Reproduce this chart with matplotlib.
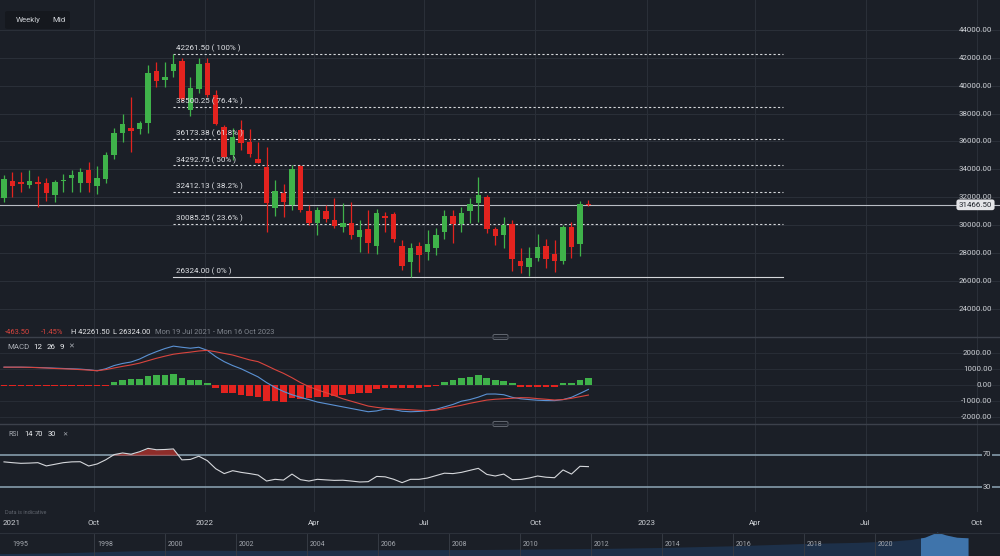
import datetime as dt
import matplotlib
matplotlib.use("Agg")
import matplotlib.pyplot as plt
import matplotlib.dates as mdates
from matplotlib.patches import Rectangle, FancyBboxPatch
from matplotlib.transforms import blended_transform_factory

plt.rcParams['font.family'] = ['Roboto', 'DejaVu Sans']

# ---- data ----
first_week = dt.date(2021, 7, 19)
opens = [31930, 33170, 33080, 32885, 33080, 33050, 32170, 33170, 33360, 33050,
         33960, 32835, 33310, 35030, 36630, 36940, 36890, 37300, 41067, 40400,
         41067, 41780, 38250, 39730, 41640, 39325, 37015, 35030, 36820, 35985,
         34725, 34195, 31215, 32290, 31450, 34250, 31045, 30185, 31045, 30380,
         29900, 30140, 29185, 29710, 28520, 30665, 30810, 28520, 27395, 28520,
         28110, 28350, 29540, 30665, 30090, 31045, 31570, 32050, 29710, 29305,
         30090, 27420, 26990, 27635, 28520, 27925, 27470, 29855, 28660, 31520]
highs = [33600, 33840, 33840, 33960, 33550, 33410, 33240, 33650, 33960, 34080,
         34550, 34270, 35270, 36990, 37945, 39205, 37465, 41470, 41710, 41710,
         42261.5, 41950, 40640, 41950, 41950, 39685, 37180, 36940, 37540, 36870,
         35985, 35625, 33240, 32955, 34320, 34320, 31450, 31330, 31450, 31930,
         31570, 31690, 30380, 31095, 31140, 30970, 30970, 28950, 28710, 28830,
         29665, 29780, 31095, 31095, 31330, 31930, 33480, 32170, 29900, 30570,
         30380, 28350, 28425, 29380, 28990, 28950, 30020, 30260, 31760, 31810]
lows = [31690, 32050, 32400, 32650, 31330, 31740, 31650, 32360, 32400, 32400,
        32360, 32220, 33010, 34745, 35940, 35270, 36515, 36585, 39920, 39920,
        40640, 38900, 37825, 39450, 39205, 37180, 34790, 34670, 35390, 34910,
        34440, 29540, 30665, 30615, 31095, 30920, 30020, 29305, 30260, 29780,
        29540, 29000, 28110, 27990, 27940, 29540, 28830, 26800, 26324, 26680,
        27510, 27870, 29000, 28710, 29540, 30185, 30260, 29470, 28590, 28400,
        26750, 26560, 26370, 27470, 26920, 26680, 27230, 27635, 27800, 31380]
closes = [33310, 32840, 32980, 33170, 32940, 32330, 33080, 33240, 33600, 33790,
          33010, 33410, 35030, 36585, 37250, 36770, 37345, 40880, 40330, 40640,
          41545, 39050, 39805, 41545, 39325, 37250, 34910, 36340, 35910, 35105,
          34480, 31620, 32475, 31690, 34010, 31100, 30185, 31095, 30430, 29950,
          30140, 29305, 29665, 28755, 30900, 30500, 29000, 27090, 28350, 27870,
          28660, 29305, 30665, 30090, 30900, 31525, 32170, 29735, 29230, 29995,
          27610, 27090, 27635, 28425, 27560, 27470, 29900, 28425, 31525, 31466.5]

macd_line = [1100, 1100, 1100, 1090, 1080, 1060, 1040, 1020, 1000, 980,
             940, 880, 1000, 1200, 1330, 1420, 1600, 1850, 2060, 2250,
             2400, 2330, 2270, 2330, 2140, 1750, 1440, 1200, 1000, 750,
             500, 150, -150, -400, -600, -760, -900, -1050, -1150, -1250,
             -1350, -1450, -1550, -1650, -1600, -1480, -1520, -1620, -1650, -1630,
             -1580, -1500, -1350, -1200, -1000, -900, -750, -560, -555, -600,
             -760, -850, -900, -940, -960, -965, -900, -760, -520, -270]
signal_line = [1100, 1100, 1100, 1090, 1070, 1050, 1020, 1000, 980, 950,
               920, 880, 950, 1050, 1150, 1240, 1350, 1500, 1650, 1780,
               1900, 1970, 2030, 2100, 2140, 2050, 1950, 1850, 1700, 1550,
               1440, 1200, 950, 720, 450, 150, -100, -300, -470, -650,
               -850, -1000, -1150, -1300, -1380, -1440, -1480, -1500, -1530, -1560,
               -1580, -1550, -1450, -1350, -1250, -1130, -1030, -930, -880, -850,
               -820, -780, -790, -840, -880, -925, -900, -820, -720, -620]
macd_hist = [-40, -40, -40, -40, -80, -80, -80, -80, -80, -80,
             -80, -80, 0, 170, 310, 370, 370, 560, 620, 620,
             680, 430, 310, 310, 120, -160, -470, -510, -620, -680,
             -720, -965, -965, -1030, -820, -885, -820, -760, -760, -680,
             -620, -555, -510, -470, -250, -160, -160, -200, -200, -160,
             -100, 0, 170, 310, 410, 520, 600, 430, 310, 250,
             100, -100, -100, -100, -100, -100, 100, 100, 310, 430]

rsi = [61.5, 60.5, 59.7, 60, 60.5, 56.5, 58.5, 60.5, 61.5, 61.7,
       56.4, 58.9, 64, 70.5, 72.5, 71, 74, 78.2, 76.5, 76.8,
       77.5, 64, 64.5, 68.5, 63, 53, 47, 50.6, 48.5, 47,
       45.2, 37.8, 39.9, 39, 46.4, 39.5, 37.8, 39.9, 39.2, 38.6,
       38.8, 37.8, 36.6, 37, 43.5, 43, 40, 35.8, 39.9, 39.9,
       41.5, 44.5, 47.5, 47, 48.5, 51, 53.5, 46, 44, 46.4,
       39.5, 39.8, 41.5, 44, 42.5, 41.9, 51.5, 46.4, 56, 55.6]

fib_levels = [42261.5, 38500.25, 36173.38, 34292.75, 32412.13, 30085.25, 26324.0]
fib_pcts = ["100%", "76.4%", "61.8%", "50%", "38.2%", "23.6%", "0%"]
fib_end = dt.date(2023, 4, 24)

price_ticks = [24000, 26000, 28000, 30000, 32000, 34000, 36000, 38000, 40000, 42000, 44000]
macd_ticks = [2000, 1000, 0, -1000, -2000]
quarter_dates = [dt.date(2021, 10, 1), dt.date(2022, 1, 1), dt.date(2022, 4, 1),
                 dt.date(2022, 7, 1), dt.date(2022, 10, 1), dt.date(2023, 1, 1),
                 dt.date(2023, 4, 1), dt.date(2023, 7, 1), dt.date(2023, 10, 1)]
quarter_labels = ["Oct", "2022", "Apr", "Jul", "Oct", "2023", "Apr", "Jul", "Oct"]

nav_years = [1995.0, 1997.0, 1999.0, 2000.5, 2003.0, 2006.0, 2009.0, 2012.0, 2014.0,
             2016.0, 2018.0, 2019.5, 2020.5, 2021.0, 2021.4, 2021.75, 2022.0, 2022.3, 2022.62]
nav_values = [4000, 5500, 9000, 10500, 9500, 11000, 11500, 13000, 15000,
              18000, 22000, 24000, 26500, 29000, 33000, 42000, 37000, 33000, 32000]
nav_ticks = [1998, 2000, 2002, 2004, 2006, 2008, 2010, 2012, 2014, 2016, 2018, 2020]

# ---- styling ----
BG = "#1b1f27"
GRID = "#2a2f38"
SEP = "#3c414b"
TXT = "#cdd0d5"
GREEN = "#3fb24a"
RED = "#e3231f"
W, H = 1000, 556
PX_PER_DAY = 8.47 / 7


def px_box(x0, y0, x1, y1):
    return [x0 / W, 1 - y1 / H, (x1 - x0) / W, (y1 - y0) / H]


def fy(y):
    return 1 - y / H


weeks = [first_week + dt.timedelta(weeks=i) for i in range(len(closes))]
xs = mdates.date2num(weeks)
x0 = xs[0]
xlim = (x0 - 4 / PX_PER_DAY, x0 + 996 / PX_PER_DAY)
qx = mdates.date2num(quarter_dates)

fig = plt.figure(figsize=(10, 5.56), dpi=100, facecolor=BG)


def clean(a):
    a.set_facecolor(BG)
    for s in a.spines.values():
        s.set_visible(False)
    a.set_xticks([])
    a.set_yticks([])


# ---- price panel ----
ax = fig.add_axes(px_box(0, 0, 1000, 337))
clean(ax)
ax.set_xlim(*xlim)
ax.set_ylim(22004, 46127)
for q in qx:
    ax.axvline(q, color=GRID, lw=0.8, zorder=0)
for t in price_ticks:
    ax.axhline(t, color=GRID, lw=0.8, zorder=0)
    ax.text(0.992, t, f"{t:.2f}", transform=ax.get_yaxis_transform(),
            ha="right", va="center", fontsize=5.7, color=TXT)

body_w = 4.5
for x, o, h, l, c in zip(xs, opens, highs, lows, closes):
    col = GREEN if c >= o else RED
    ax.vlines(x, l, h, color=col, lw=0.9, zorder=3)
    ax.bar(x, max(abs(c - o), 80), bottom=min(o, c), width=body_w, color=col, zorder=4)

fib_start = xs[highs.index(max(highs))]
fib_stop = mdates.date2num(fib_end)
for lvl, pct in zip(fib_levels, fib_pcts):
    ls = "-" if pct == "0%" else (0, (2, 2))
    ax.plot([fib_start, fib_stop], [lvl, lvl], color="#d5d7db", lw=0.8, ls=ls, zorder=2)
    ax.text(fib_start + 3 / PX_PER_DAY, lvl + 130, f"{lvl:.2f} ( {pct} )",
            fontsize=5.8, color="#e2e4e8", ha="left", va="bottom", zorder=5)

last = closes[-1]
ax.axhline(last, color="#b9bdc4", lw=0.8, zorder=2)
ax.text(0.9755, last, f"{last:.2f}", transform=ax.get_yaxis_transform(),
        ha="center", va="center", fontsize=5.7, color="#20242b", zorder=6,
        bbox=dict(boxstyle="round,pad=0.3", fc="#e4e5e8", ec="none"))

# top-left interval box
fig.patches.append(FancyBboxPatch((5 / W, fy(29)), 65 / W, 18 / H,
                                  boxstyle="round,pad=0,rounding_size=0.003",
                                  transform=fig.transFigure, fc="#15181e", ec="none"))
fig.text(16 / W, fy(20), "Weekly", fontsize=5.7, color=TXT, va="center")
fig.text(52 / W, fy(20), "Mid", fontsize=5.7, color=TXT, va="center")

# header row
hy = fy(332)
fig.text(5 / W, hy, "-463.50", fontsize=5.4, color="#d9453e", va="center")
fig.text(41 / W, hy, "-1.45%", fontsize=5.4, color="#d9453e", va="center")
fig.text(71 / W, hy, "H 42261.50", fontsize=5.4, color="#e6e7ea", va="center")
fig.text(113 / W, hy, "L 26324.00", fontsize=5.4, color="#e6e7ea", va="center")
fig.text(155 / W, hy, "Mon 19 Jul 2021 - Mon 16 Oct 2023", fontsize=5.4,
         color="#80858e", va="center")

# ---- MACD panel ----
axm = fig.add_axes(px_box(0, 337, 1000, 424))
clean(axm)
axm.set_xlim(*xlim)
axm.set_ylim(-2407, 2963)
for q in qx:
    axm.axvline(q, color=GRID, lw=0.8, zorder=0)
for t in macd_ticks:
    axm.axhline(t, color=GRID, lw=0.6, zorder=0)
    axm.text(0.992, t, f"{t:.2f}", transform=axm.get_yaxis_transform(),
             ha="right", va="center", fontsize=5.7, color=TXT)
hist_cols = [GREEN if v > 0 else RED for v in macd_hist]
hist_h = [v if abs(v) >= 60 else (60 if v > 0 else -60) for v in macd_hist]
axm.bar(xs, hist_h, width=5.5, color=hist_cols, zorder=2)
axm.plot(xs, macd_line, color="#5b92d4", lw=0.8, zorder=3)
axm.plot(xs, signal_line, color="#d9453e", lw=0.8, zorder=3)
my = fy(347)
fig.text(7 / W, my, "MACD", fontsize=5.7, color="#a9adb4", va="center")
fig.text(33 / W, my, "12", fontsize=5.7, color="#eceef1", va="center")
fig.text(47 / W, my, "26", fontsize=5.7, color="#eceef1", va="center")
fig.text(60 / W, my, "9", fontsize=5.7, color="#eceef1", va="center")
fig.text(68 / W, my, "\u2715", fontsize=5, color="#a9adb4", va="center")

# ---- RSI panel ----
axr = fig.add_axes(px_box(0, 424, 1000, 512))
clean(axr)
axr.set_xlim(*xlim)
axr.set_ylim(-0.52, 108.35)
for q in qx:
    axr.axvline(q, color=GRID, lw=0.8, zorder=0)
for lvl in (70, 30):
    axr.axhline(lvl, color="#8ea6b6", lw=1.1, zorder=1)
    axr.text(0.987, lvl, f"{lvl}", transform=axr.get_yaxis_transform(), ha="center",
             va="center", fontsize=5.4, color=TXT, zorder=3,
             bbox=dict(boxstyle="square,pad=0.15", fc=BG, ec="none"))
axr.fill_between(xs, rsi, 70, where=[r > 70 for r in rsi], interpolate=True,
                 color="#9c2f2b", alpha=0.9, lw=0, zorder=2)
axr.plot(xs, rsi, color="#d5d7db", lw=0.8, zorder=3)
ry = fy(435)
fig.text(8 / W, ry, "RSI", fontsize=5, color="#a9adb4", va="center")
fig.text(24 / W, ry, "14", fontsize=5.4, color="#eceef1", va="center")
fig.text(35 / W, ry, "70", fontsize=5.4, color="#eceef1", va="center")
fig.text(48 / W, ry, "30", fontsize=5.4, color="#eceef1", va="center")
fig.text(62 / W, ry, "\u2715", fontsize=4.5, color="#a9adb4", va="center")
fig.text(5 / W, fy(513), "Data is indicative", fontsize=4, color="#5f646d", va="center")

# date labels
dtr = blended_transform_factory(axr.transData, fig.transFigure)
fig.text(12 / W, fy(523), "2021", fontsize=5.7, color=TXT, ha="center", va="center")
for q, lab in zip(qx, quarter_labels):
    axr.text(q, fy(523), lab, transform=dtr, fontsize=5.7, color=TXT,
             ha="center", va="center", clip_on=False)

# separators with handles
for y in (337, 424):
    fig.add_artist(plt.Line2D([0, 1], [fy(y), fy(y)], color=SEP, lw=1.0))
    fig.patches.append(FancyBboxPatch((493 / W, fy(y + 2.5)), 15 / W, 5 / H,
                                      boxstyle="round,pad=0,rounding_size=0.002",
                                      transform=fig.transFigure, fc=BG, ec="#6e737c", lw=0.6))

# ---- navigator ----
axn = fig.add_axes(px_box(0, 531, 1000, 556))
clean(axn)
axn.set_xlim(2000 - 165 / 35.5, 2000 + 835 / 35.5)
axn.set_ylim(0, 44000)
fig.add_artist(plt.Line2D([0, 1], [fy(533), fy(533)], color="#2c313a", lw=0.8))
axn.fill_between(nav_years, nav_values, 0, color="#1d3049", lw=0, zorder=1)
hl = axn.fill_between(nav_years, nav_values, 0, color="#3f74ab", lw=0, zorder=2)
hl.set_clip_path(Rectangle((2021.3, 0), 1.32, 50000, transform=axn.transData))
for yr in nav_ticks:
    axn.axvline(yr, ymin=0, ymax=0.9, color="#353a43", lw=0.7, zorder=3)
    axn.text(yr + 3 / 35.5, 0.45, str(yr), transform=axn.get_xaxis_transform(),
             fontsize=5, color="#a3a7ae", ha="left", va="center", zorder=4)
axn.text(0.012, 0.45, "1995", transform=axn.transAxes, fontsize=5, color="#a3a7ae",
         ha="left", va="center")

fig.savefig("out.png", dpi=100, facecolor=BG)
